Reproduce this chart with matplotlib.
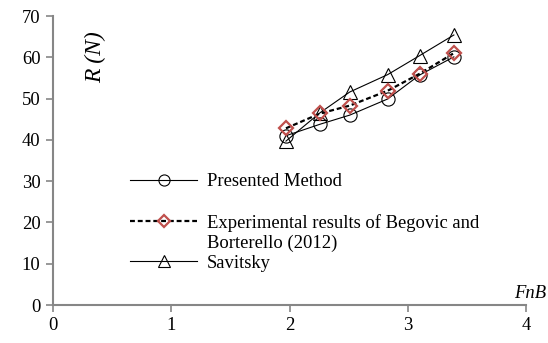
import matplotlib
matplotlib.use("Agg")
import matplotlib.pyplot as plt
from matplotlib.lines import Line2D

# Data
fnb = [1.97, 2.26, 2.51, 2.83, 3.10, 3.39]
presented = [41.0, 43.8, 46.0, 49.9, 55.7, 60.1]
experimental = [42.8, 46.4, 48.3, 51.9, 56.0, 61.0]
savitsky = [39.7, 46.6, 51.6, 55.8, 60.4, 65.4]

xticks = [0, 1, 2, 3, 4]
yticks = [0, 10, 20, 30, 40, 50, 60, 70]

plt.rcParams['font.family'] = ['Liberation Serif', 'DejaVu Serif']
FS = 13.4
gray = '#868686'
red = '#C0504D'

fig = plt.figure(figsize=(5.48, 3.43), dpi=100)
ax = fig.add_axes([53/548, 38/343, (526-53)/548, (305-16)/343])

ax.plot(fnb, presented, color='black', lw=0.8, marker='o', ms=9.5,
        mfc='none', mec='black', mew=0.8, zorder=3)
ax.plot(fnb, savitsky, color='black', lw=0.8, marker='^', ms=10,
        mfc='none', mec='black', mew=0.8, zorder=3)
ax.plot(fnb, experimental, color='black', lw=1.6, ls=(0, (2.2, 1.3)),
        marker='D', ms=7.5, mfc='none', mec=red, mew=1.6, zorder=4)

ax.set_xlim(0, 4)
ax.set_ylim(0, 70)
ax.set_xticks(xticks)
ax.set_yticks(yticks)
ax.tick_params(axis='both', direction='out', length=5, width=1.2, color=gray,
               labelsize=FS, labelcolor='black', pad=4)
for s in ['top', 'right']:
    ax.spines[s].set_visible(False)
for s in ['left', 'bottom']:
    ax.spines[s].set_color(gray)
    ax.spines[s].set_linewidth(1.5)

fig.text(96/548, 1 - 57/343, 'R (N)', rotation=90, style='italic',
         fontsize=17, ha='center', va='center')
fig.text(546/548, 1 - 294/343, 'FnB', style='italic', fontsize=FS,
         ha='right', va='center')

h1 = Line2D([], [], color='black', lw=0.8, marker='o', ms=8, mfc='none', mec='black', mew=0.8)
h2 = Line2D([], [], color='black', lw=1.6, ls=(0, (2.2, 1.3)), marker='D', ms=6,
            mfc='none', mec=red, mew=1.6)
h3 = Line2D([], [], color='black', lw=0.8, marker='^', ms=8, mfc='none', mec='black', mew=0.8)
hb = Line2D([], [], ls='none')

common = dict(frameon=False, fontsize=FS, handlelength=3.6, handletextpad=0.55,
              borderpad=0, borderaxespad=0, labelspacing=0.15)
leg1 = ax.legend([h1], ['Presented Method'], loc='upper left',
                 bbox_to_anchor=(130/548, 1 - 173/343), bbox_transform=fig.transFigure,
                 **common)
ax.add_artist(leg1)
leg2 = ax.legend([h2, hb, h3],
                 ['Experimental results of Begovic and', 'Borterello (2012)', 'Savitsky'],
                 loc='upper left', bbox_to_anchor=(130/548, 1 - 214/343),
                 bbox_transform=fig.transFigure, **common)

fig.savefig('out.png', dpi=100)
